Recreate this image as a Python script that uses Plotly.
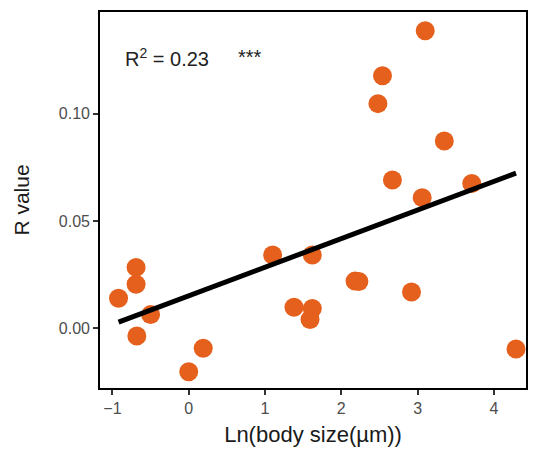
import plotly.graph_objects as go

# Data
body_size_ln = [3.10, 2.54, 2.48, 3.35, 2.67, 3.71, 3.06, 1.10, 1.62, 2.18, 2.23, 2.92,
                -0.69, -0.69, -0.92, -0.50, 1.38, 1.62, 1.59, -0.68, 0.19, 0.00, 4.29]
r_value = [0.1387, 0.1177, 0.1047, 0.0873, 0.0691, 0.0675, 0.0609, 0.0342, 0.0342, 0.0220,
           0.0218, 0.0169, 0.0284, 0.0205, 0.0140, 0.0064, 0.0098, 0.0092, 0.0041, -0.0036,
           -0.0093, -0.0202, -0.0096]

fit_x = [-0.92, 4.29]
fit_y = [0.0029, 0.0723]

x_ticks = [-1, 0, 1, 2, 3, 4]
y_ticks = [0.00, 0.05, 0.10]
y_tick_labels = ["0.00", "0.05", "0.10"]

FONT = "Liberation Sans, Arial, sans-serif"

fig = go.Figure()
fig.add_trace(go.Scatter(
    x=body_size_ln, y=r_value, mode="markers",
    marker=dict(size=19, color="#E4601C", line=dict(width=0)),
    showlegend=False, hoverinfo="x+y",
))
fig.add_trace(go.Scatter(
    x=fit_x, y=fit_y, mode="lines",
    line=dict(color="black", width=5),
    showlegend=False, hoverinfo="skip",
))

fig.add_annotation(
    xref="paper", yref="paper", x=0.054, y=0.880,
    xanchor="left", yanchor="middle", showarrow=False,
    text="R<sup>2</sup> = 0.23",
    font=dict(family=FONT, size=20, color="#222222"),
)
fig.add_annotation(
    xref="paper", yref="paper", x=0.320, y=0.880,
    xanchor="left", yanchor="middle", showarrow=False,
    text="***",
    font=dict(family=FONT, size=20, color="#222222"),
)

axis_common = dict(
    showline=True, linecolor="black", linewidth=1.6, mirror=True,
    showgrid=False, zeroline=False,
    ticks="outside", ticklen=5, tickwidth=1.5, tickcolor="#333333",
    tickfont=dict(family=FONT, size=16, color="#4D4D4D"),
)

fig.update_layout(
    width=538, height=453,
    margin=dict(l=100, r=10, t=12, b=65),
    paper_bgcolor="white", plot_bgcolor="white",
    xaxis=dict(
        range=[-1.163, 4.421], tickvals=x_ticks,
        title=dict(text="Ln(body size(µm))", standoff=11,
                   font=dict(family=FONT, size=22, color="#1a1a1a")),
        **axis_common,
    ),
    yaxis=dict(
        range=[-0.0278, 0.1474], tickvals=y_ticks, ticktext=y_tick_labels,
        title=dict(text="R value", standoff=24,
                   font=dict(family=FONT, size=21, color="#1a1a1a")),
        **axis_common,
    ),
)

fig.write_html("out.html")
